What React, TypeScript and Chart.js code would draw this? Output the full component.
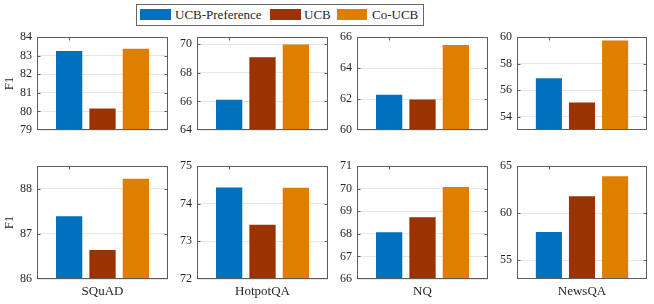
import React, { useEffect, useRef } from "react";
import { Chart, registerables } from "chart.js";

Chart.register(...registerables);

const datasetNames = ["SQuAD", "HotpotQA", "NQ", "NewsQA"];
const methodNames = ["UCB-Preference", "UCB", "Co-UCB"];
const methodColors = ["#0072BD", "#993300", "#DF7F00"];

// top row of panels
const topUcbPref = [83.25, 66.11, 62.28, 56.89];
const topUcb = [80.15, 69.09, 61.96, 55.07];
const topCoUcb = [83.37, 69.98, 65.48, 59.73];
// bottom row of panels
const bottomUcbPref = [87.39, 74.43, 68.07, 58.0];
const bottomUcb = [86.64, 73.44, 68.73, 61.8];
const bottomCoUcb = [88.22, 74.42, 70.07, 63.92];

const topMin = [79, 64, 60, 53];
const topMax = [84, 70.5, 66, 60];
const topTicks = [
  [79, 80, 81, 82, 83, 84],
  [64, 66, 68, 70],
  [60, 62, 64, 66],
  [54, 56, 58, 60],
];
const bottomMin = [86, 72, 66, 53];
const bottomMax = [88.5, 75, 71, 65];
const bottomTicks = [
  [86, 87, 88],
  [72, 73, 74, 75],
  [66, 67, 68, 69, 70, 71],
  [55, 60, 65],
];

const W = 654;
const H = 304;
const colLeft = [37, 197, 357, 517];
const colRight = [168, 328, 488, 647];
const rowTop = [37, 166];
const rowBottom = [150, 279];
const X_H = 20;

const FONT = "'Liberation Serif', 'Times New Roman', Times, serif";
const TEXT = "#262626";

const framePlugin = {
  id: "frame",
  afterDraw(chart: any) {
    const { ctx, chartArea: a } = chart;
    const l = Math.round(a.left) + 0.5;
    const r = Math.round(a.right) - 0.5;
    const t = Math.round(a.top) + 0.5;
    const b = Math.round(a.bottom) - 0.5;
    ctx.save();
    ctx.strokeStyle = "#5c5c5c";
    ctx.lineWidth = 1;
    ctx.strokeRect(l, t, r - l, b - t);
    const ys = chart.scales.y;
    ctx.beginPath();
    ys.ticks.forEach((tk: any) => {
      const py = Math.round(ys.getPixelForValue(tk.value)) + 0.5;
      if (py <= t + 1 || py >= b - 1) return;
      ctx.moveTo(l, py);
      ctx.lineTo(l + 3, py);
      ctx.moveTo(r, py);
      ctx.lineTo(r - 3, py);
    });
    const bar = chart.getDatasetMeta(0).data[0];
    if (bar) {
      const px = Math.round(bar.x) + 0.5;
      ctx.moveTo(px, t);
      ctx.lineTo(px, t + 3);
      ctx.moveTo(px, b);
      ctx.lineTo(px, b - 3);
    }
    ctx.stroke();
    ctx.restore();
  },
};

function Panel({ row, col }: { row: number; col: number }) {
  const ref = useRef<HTMLCanvasElement | null>(null);
  useEffect(() => {
    if (!ref.current) return;
    const vals =
      row === 0
        ? [topUcbPref, topUcb, topCoUcb]
        : [bottomUcbPref, bottomUcb, bottomCoUcb];
    const yMin = row === 0 ? topMin[col] : bottomMin[col];
    const yMax = row === 0 ? topMax[col] : bottomMax[col];
    const ticks = row === 0 ? topTicks[col] : bottomTicks[col];
    const yW = col === 0 ? colLeft[0] : 30;
    const chart = new Chart(ref.current, {
      type: "bar",
      data: {
        labels: [datasetNames[col]],
        datasets: methodNames.map((m, i) => ({
          label: m,
          data: [vals[i][col]],
          backgroundColor: methodColors[i],
          categoryPercentage: 0.764,
          barPercentage: 0.788,
        })),
      },
      options: {
        responsive: false,
        animation: false,
        layout: {
          padding: {
            left: colLeft[col] - yW,
            right: W - colRight[col],
            top: rowTop[row],
            bottom: row === 0 ? H - rowBottom[0] : H - rowBottom[1] - X_H,
          },
        },
        plugins: {
          legend: { display: false },
          tooltip: { enabled: false },
        },
        scales: {
          x: {
            display: row === 1,
            grid: { display: false, drawTicks: false },
            border: { display: false },
            ticks: {
              font: { family: FONT, size: 13 },
              color: TEXT,
              padding: 5,
            },
            afterFit: (s: any) => {
              s.height = X_H;
            },
          },
          y: {
            min: yMin,
            max: yMax,
            afterBuildTicks: (s: any) => {
              s.ticks = ticks.map((v) => ({ value: v }));
            },
            afterFit: (s: any) => {
              s.width = yW;
            },
            grid: { color: "#e6e6e6", drawTicks: false },
            border: { display: false },
            ticks: {
              font: { family: FONT, size: 12 },
              color: TEXT,
              padding: 5,
              autoSkip: false,
            },
            title:
              col === 0
                ? {
                    display: true,
                    text: "F1",
                    font: { family: FONT, size: 13 },
                    color: TEXT,
                    padding: { top: 2, bottom: 0 },
                  }
                : { display: false },
          },
        },
      },
      plugins: [framePlugin],
    });
    return () => chart.destroy();
  }, [row, col]);
  return (
    <canvas
      ref={ref}
      width={W}
      height={H}
      style={{ position: "absolute", left: 0, top: 0, width: W, height: H }}
    />
  );
}

const legendSwatchLeft = [140, 270, 337];
const legendSwatchWidth = [31, 31, 30];
const legendTextLeft = [175, 304, 372];

export default function App() {
  const panels: JSX.Element[] = [];
  for (let r = 0; r < 2; r++)
    for (let c = 0; c < 4; c++) panels.push(<Panel key={`${r}-${c}`} row={r} col={c} />);
  return (
    <div
      style={{
        position: "fixed",
        left: 0,
        top: 0,
        width: W,
        height: H,
        background: "#fff",
        overflow: "hidden",
      }}
    >
      {panels}
      <div
        style={{
          position: "absolute",
          left: 136,
          top: 4,
          width: 288,
          height: 22,
          border: "1px solid #666",
          boxSizing: "border-box",
          background: "#fff",
        }}
      />
      {methodNames.map((m, i) => (
        <React.Fragment key={m}>
          <div
            style={{
              position: "absolute",
              left: legendSwatchLeft[i],
              top: 9,
              width: legendSwatchWidth[i],
              height: 11,
              background: methodColors[i],
            }}
          />
          <div
            style={{
              position: "absolute",
              left: legendTextLeft[i],
              top: 5,
              height: 20,
              lineHeight: "20px",
              fontFamily: FONT,
              fontSize: 13,
              color: TEXT,
              whiteSpace: "nowrap",
            }}
          >
            {m}
          </div>
        </React.Fragment>
      ))}
    </div>
  );
}
